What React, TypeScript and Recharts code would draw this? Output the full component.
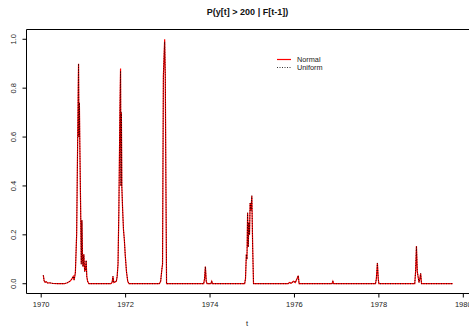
import React from 'react';
import { LineChart, Line, XAxis, YAxis, ReferenceLine, Legend } from 'recharts';

const times = [
  1970.05, 1970.07, 1970.09, 1970.12, 1970.15, 1970.2, 1970.28, 1970.4, 1970.55, 1970.62,
  1970.68, 1970.72, 1970.76, 1970.78, 1970.81, 1970.84, 1970.865, 1970.885, 1970.895, 1970.905,
  1970.915, 1970.935, 1970.95, 1970.965, 1970.98, 1970.99, 1971.01, 1971.03, 1971.05, 1971.065,
  1971.08, 1971.1, 1971.13, 1971.4, 1971.65, 1971.68, 1971.7, 1971.72, 1971.78, 1971.8,
  1971.82, 1971.84, 1971.865, 1971.88, 1971.89, 1971.9, 1971.91, 1971.93, 1971.95, 1971.97,
  1971.99, 1972.02, 1972.05, 1972.08, 1972.5, 1972.8, 1972.83, 1972.86, 1972.875, 1972.885,
  1972.895, 1972.925, 1972.94, 1972.955, 1972.97, 1973.3, 1973.85, 1973.87, 1973.89, 1973.91,
  1973.93, 1974.02, 1974.04, 1974.06, 1974.5, 1974.82, 1974.84, 1974.86, 1974.875, 1974.89,
  1974.905, 1974.92, 1974.935, 1974.95, 1974.97, 1974.99, 1975.01, 1975.03, 1975.5, 1975.85,
  1975.88, 1975.92, 1975.98, 1976.02, 1976.06, 1976.09, 1976.11, 1976.5, 1976.89, 1976.91,
  1976.93, 1977.5, 1977.92, 1977.94, 1977.965, 1977.985, 1978.0, 1978.5, 1978.85, 1978.87,
  1978.89, 1978.91, 1978.95, 1978.97, 1978.99, 1979.01, 1979.4, 1979.75,
];

const normalP = [
  0.035, 0.012, 0.006, 0.008, 0.003, 0.004, 0.001, 0, 0, 0.004,
  0.01, 0.018, 0.03, 0.015, 0.045, 0.2, 0.6, 0.9, 0.6, 0.74,
  0.58, 0.3, 0.08, 0.26, 0.1, 0.07, 0.12, 0.05, 0.06, 0.095,
  0.03, 0.01, 0, 0, 0, 0.005, 0.03, 0.005, 0.01, 0.03,
  0.08, 0.3, 0.7, 0.88, 0.4, 0.7, 0.4, 0.3, 0.22, 0.18,
  0.12, 0.05, 0.01, 0, 0, 0, 0.01, 0.06, 0.08, 0.5,
  0.85, 1.0, 0.85, 0.4, 0, 0, 0, 0.02, 0.07, 0.01,
  0, 0, 0.01, 0, 0, 0, 0.02, 0.12, 0.1, 0.29,
  0.15, 0.25, 0.2, 0.33, 0.3, 0.36, 0.15, 0, 0, 0,
  0.005, 0.002, 0.01, 0.005, 0.02, 0.033, 0, 0, 0, 0.01,
  0, 0, 0, 0.02, 0.085, 0.02, 0, 0, 0, 0.05,
  0.154, 0.05, 0.005, 0.02, 0.042, 0, 0, 0,
];

const uniformP = [
  0.034, 0.012, 0.006, 0.008, 0.003, 0.004, 0.001, 0, 0, 0.004,
  0.01, 0.018, 0.03, 0.015, 0.045, 0.21, 0.6, 0.9, 0.6, 0.74,
  0.57, 0.3, 0.08, 0.26, 0.1, 0.07, 0.12, 0.05, 0.06, 0.095,
  0.03, 0.01, 0, 0, 0, 0.005, 0.03, 0.005, 0.01, 0.03,
  0.08, 0.3, 0.7, 0.87, 0.4, 0.7, 0.4, 0.3, 0.22, 0.18,
  0.12, 0.05, 0.01, 0, 0, 0, 0.01, 0.06, 0.08, 0.5,
  0.85, 0.99, 0.85, 0.4, 0, 0, 0, 0.02, 0.07, 0.01,
  0, 0, 0.01, 0, 0, 0, 0.02, 0.12, 0.1, 0.29,
  0.15, 0.25, 0.2, 0.33, 0.3, 0.36, 0.15, 0, 0, 0,
  0.005, 0.002, 0.01, 0.005, 0.02, 0.033, 0, 0, 0, 0.01,
  0, 0, 0, 0.02, 0.085, 0.02, 0, 0, 0, 0.05,
  0.153, 0.05, 0.005, 0.02, 0.042, 0, 0, 0,
];

const xTicks = [1970, 1972, 1974, 1976, 1978, 1980];
const yTicks = [0, 0.2, 0.4, 0.6, 0.8, 1.0];
const yTickLabels = ['0.0', '0.2', '0.4', '0.6', '0.8', '1.0'];

const data = times.map((t, i) => ({ t, normal: normalP[i], uniform: uniformP[i] }));

const FONT = '"Liberation Sans", Arial, Helvetica, sans-serif';
const X_MIN = 1969.652;
const X_MAX = 1980.135;
const Y_MIN = -0.04;
const Y_MAX = 1.04;

const YTick = (props: any) => {
  const { x, y, payload } = props;
  const idx = yTicks.indexOf(payload.value);
  const label = idx >= 0 ? yTickLabels[idx] : String(payload.value);
  return (
    <text
      x={x}
      y={y}
      transform={`rotate(-90 ${x} ${y})`}
      textAnchor="middle"
      fontSize={7.5}
      fontFamily={FONT}
      fill="#222"
    >
      {label}
    </text>
  );
};

const XTick = (props: any) => {
  const { x, y, payload } = props;
  return (
    <text x={x} y={y + 7} textAnchor="middle" fontSize={7.5} fontFamily={FONT} fill="#222">
      {String(payload.value)}
    </text>
  );
};

const LegendContent = () => (
  <svg width={80} height={22} style={{ display: 'block', overflow: 'visible' }}>
    <line x1={0} y1={3.5} x2={14} y2={3.5} stroke="#ff0000" strokeWidth={1.2} />
    <text x={20} y={6} fontSize={7.3} fontFamily={FONT} fill="#222">Normal</text>
    <line x1={0} y1={11.5} x2={14} y2={11.5} stroke="#000" strokeWidth={0.8} strokeDasharray="1 1.5" />
    <text x={20} y={14} fontSize={7.3} fontFamily={FONT} fill="#222">Uniform</text>
  </svg>
);

export default function App() {
  return (
    <div style={{ position: 'absolute', left: 0, top: 0, width: 469, height: 328, background: '#fff' }}>
      <LineChart width={469} height={328} data={data} margin={{ top: 29.5, right: 0, bottom: 0, left: 0 }}>
        <XAxis
          dataKey="t"
          type="number"
          domain={[X_MIN, X_MAX]}
          allowDataOverflow
          ticks={xTicks}
          interval={0}
          height={34.5}
          tickSize={4}
          tickMargin={2}
          tick={<XTick />}
          axisLine={{ stroke: '#000', strokeWidth: 1 }}
          tickLine={{ stroke: '#000', strokeWidth: 1 }}
        />
        <YAxis
          type="number"
          domain={[Y_MIN, Y_MAX]}
          allowDataOverflow
          ticks={yTicks}
          interval={0}
          width={26.5}
          tickSize={4}
          tickMargin={6.5}
          tick={<YTick />}
          axisLine={{ stroke: '#000', strokeWidth: 1 }}
          tickLine={{ stroke: '#000', strokeWidth: 1 }}
        />
        <ReferenceLine y={Y_MAX} stroke="#000" strokeWidth={1} ifOverflow="visible" />
        <Line
          type="linear"
          dataKey="normal"
          name="Normal"
          stroke="#ff0000"
          strokeWidth={1.2}
          dot={false}
          activeDot={false}
          isAnimationActive={false}
        />
        <Line
          type="linear"
          dataKey="uniform"
          name="Uniform"
          stroke="#000"
          strokeWidth={0.8}
          strokeDasharray="1 1.5"
          dot={false}
          activeDot={false}
          isAnimationActive={false}
        />
        <Legend
          layout="vertical"
          align="center"
          verticalAlign="middle"
          content={<LegendContent />}
          wrapperStyle={{ position: 'absolute', left: 277, top: 56, width: 80, height: 22 }}
        />
        <text x={247.5} y={15} textAnchor="middle" fontSize={9} fontWeight="bold" fontFamily={FONT} fill="#111">
          P(y[t] &gt; 200 | F[t-1])
        </text>
        <text x={247} y={326} textAnchor="middle" fontSize={7.5} fontFamily={FONT} fill="#222">
          t
        </text>
      </LineChart>
    </div>
  );
}
